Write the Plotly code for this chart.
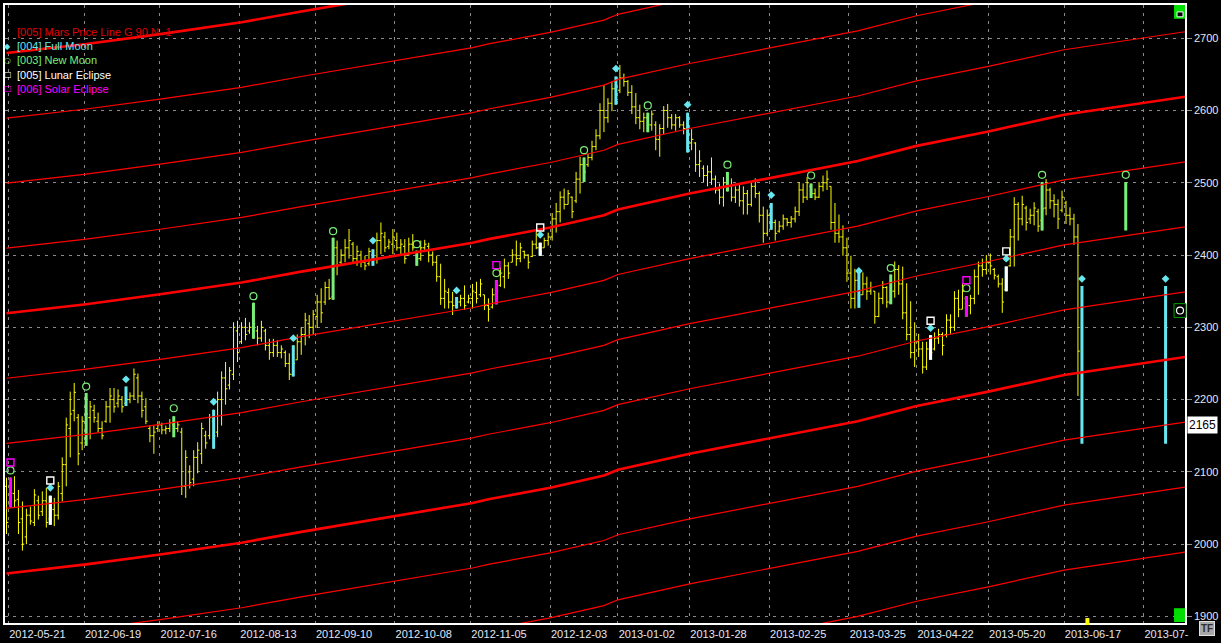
import plotly.graph_objects as go

# ── Data ──────────────────────────────────────────────────────────────────────
tick_idx = [0.5, 19.5, 38.5, 58.5, 77.5, 97.5, 116.5, 136.5, 153.5, 171.5,
            191.5, 211.5, 228.5, 246.5, 265.5, 285.5]
tick_labels = ["2012-05-21", "2012-06-19", "2012-07-16", "2012-08-13", "2012-09-10",
               "2012-10-08", "2012-11-05", "2012-12-03", "2013-01-02", "2013-01-28",
               "2013-02-25", "2013-03-25", "2013-04-22", "2013-05-20", "2013-06-17",
               "2013-07-"]

opens = [
    2080, 2055, 2070, 2062, 2035, 2010, 2040, 2030, 2060, 2045,
    2060, 2035, 2048, 2040, 2070, 2110, 2160, 2185, 2175, 2140,
    2140, 2175, 2185, 2170, 2160, 2170, 2190, 2200, 2195, 2200,
    2195, 2200, 2205, 2230, 2205, 2190, 2160, 2150, 2160, 2165,
    2158, 2160, 2165, 2160, 2155, 2080, 2100, 2090, 2120, 2125,
    2150, 2150, 2170, 2155, 2200, 2230, 2220, 2235, 2295, 2280,
    2300, 2295, 2300, 2295, 2285, 2295, 2275, 2265, 2275, 2265,
    2265, 2250, 2235, 2255, 2280, 2290, 2305, 2300, 2315, 2335,
    2335, 2355, 2342, 2410, 2390, 2400, 2410, 2415, 2395, 2400,
    2390, 2388, 2400, 2395, 2420, 2425, 2412, 2415, 2420, 2410,
    2412, 2400, 2415, 2405, 2395, 2410, 2412, 2400, 2390, 2370,
    2340, 2348, 2335, 2330, 2335, 2340, 2335, 2340, 2348, 2345,
    2345, 2330, 2328, 2345, 2358, 2370, 2385, 2390, 2400, 2395,
    2405, 2400, 2398, 2415, 2410, 2410, 2420, 2425, 2450, 2460,
    2480, 2470, 2480, 2475, 2505, 2525, 2525, 2535, 2550, 2565,
    2600, 2590, 2610, 2630, 2628, 2645, 2640, 2625, 2605, 2590,
    2585, 2590, 2580, 2580, 2560, 2575, 2600, 2590, 2580, 2590,
    2580, 2575, 2555, 2555, 2525, 2520, 2510, 2515, 2505, 2490,
    2480, 2500, 2495, 2480, 2490, 2475, 2485, 2470, 2495, 2485,
    2455, 2430, 2455, 2445, 2433, 2440, 2450, 2445, 2450, 2460,
    2490, 2480, 2495, 2485, 2480, 2495, 2500, 2495, 2445, 2430,
    2425, 2410, 2375, 2340, 2365, 2345, 2360, 2350, 2350, 2315,
    2340, 2355, 2335, 2350, 2380, 2360, 2320, 2290, 2265, 2280,
    2270, 2245, 2270, 2270, 2285, 2290, 2290, 2310, 2300, 2340,
    2325, 2340, 2330, 2340, 2370, 2385, 2380, 2390, 2380, 2370,
    2360, 2352, 2385, 2425, 2470, 2450, 2465, 2450, 2455, 2460,
    2448, 2465, 2490, 2475, 2470, 2462, 2472, 2455, 2450, 2425,
]
highs = [
    2092, 2092, 2094, 2075, 2059, 2049, 2052, 2076, 2067, 2073,
    2078, 2067, 2064, 2086, 2120, 2175, 2211, 2223, 2180, 2177,
    2209, 2198, 2193, 2182, 2170, 2198, 2216, 2216, 2214, 2205,
    2218, 2210, 2243, 2236, 2211, 2202, 2164, 2164, 2170, 2168,
    2164, 2173, 2177, 2170, 2161, 2130, 2109, 2130, 2141, 2168,
    2157, 2180, 2186, 2211, 2239, 2252, 2245, 2307, 2309, 2307,
    2313, 2307, 2334, 2302, 2309, 2298, 2284, 2284, 2282, 2275,
    2268, 2264, 2275, 2290, 2300, 2320, 2317, 2324, 2345, 2354,
    2363, 2367, 2424, 2420, 2408, 2422, 2436, 2418, 2413, 2406,
    2399, 2410, 2408, 2431, 2445, 2432, 2422, 2436, 2431, 2422,
    2422, 2424, 2429, 2406, 2420, 2421, 2417, 2405, 2399, 2388,
    2367, 2354, 2349, 2342, 2345, 2358, 2345, 2360, 2363, 2367,
    2345, 2340, 2354, 2365, 2383, 2395, 2390, 2408, 2420, 2417,
    2406, 2401, 2420, 2433, 2417, 2424, 2431, 2458, 2472, 2488,
    2492, 2490, 2481, 2515, 2536, 2535, 2540, 2558, 2574, 2610,
    2635, 2617, 2640, 2647, 2663, 2651, 2642, 2635, 2624, 2608,
    2597, 2597, 2600, 2585, 2581, 2606, 2609, 2595, 2595, 2592,
    2585, 2597, 2574, 2556, 2545, 2524, 2524, 2535, 2510, 2499,
    2508, 2515, 2506, 2495, 2499, 2495, 2490, 2501, 2506, 2488,
    2467, 2463, 2472, 2449, 2447, 2456, 2451, 2454, 2467, 2501,
    2499, 2508, 2499, 2492, 2501, 2510, 2517, 2495, 2472, 2456,
    2441, 2424, 2399, 2381, 2377, 2376, 2370, 2363, 2350, 2348,
    2364, 2357, 2373, 2391, 2386, 2384, 2361, 2336, 2307, 2291,
    2280, 2280, 2289, 2293, 2298, 2293, 2318, 2318, 2350, 2352,
    2361, 2343, 2345, 2380, 2391, 2395, 2400, 2402, 2382, 2373,
    2368, 2384, 2436, 2480, 2473, 2482, 2468, 2464, 2473, 2464,
    2501, 2505, 2493, 2484, 2477, 2489, 2475, 2466, 2457, 2443,
]
lows = [
    2014, 2051, 2050, 2014, 1991, 2000, 2027, 2025, 2034, 2039,
    2023, 2027, 2025, 2034, 2059, 2080, 2120, 2170, 2109, 2130,
    2136, 2145, 2168, 2155, 2145, 2168, 2168, 2182, 2189, 2182,
    2191, 2195, 2200, 2195, 2175, 2166, 2141, 2125, 2155, 2152,
    2152, 2155, 2148, 2155, 2068, 2064, 2077, 2080, 2098, 2111,
    2132, 2145, 2132, 2148, 2164, 2193, 2214, 2227, 2252, 2277,
    2282, 2291, 2284, 2275, 2280, 2268, 2255, 2259, 2259, 2257,
    2245, 2227, 2232, 2255, 2262, 2275, 2285, 2290, 2299, 2306,
    2331, 2338, 2338, 2372, 2385, 2390, 2395, 2390, 2385, 2383,
    2379, 2385, 2385, 2388, 2401, 2404, 2408, 2401, 2406, 2401,
    2388, 2399, 2406, 2385, 2392, 2404, 2390, 2385, 2363, 2331,
    2326, 2326, 2317, 2326, 2329, 2324, 2333, 2326, 2333, 2342,
    2324, 2308, 2326, 2332, 2356, 2354, 2367, 2390, 2385, 2390,
    2395, 2381, 2397, 2408, 2399, 2410, 2413, 2420, 2431, 2445,
    2463, 2470, 2451, 2472, 2485, 2501, 2522, 2531, 2545, 2560,
    2570, 2583, 2599, 2608, 2624, 2633, 2620, 2595, 2581, 2574,
    2570, 2570, 2572, 2545, 2536, 2567, 2576, 2574, 2572, 2576,
    2567, 2542, 2545, 2515, 2508, 2501, 2495, 2497, 2485, 2470,
    2467, 2488, 2474, 2472, 2467, 2456, 2456, 2467, 2479, 2445,
    2417, 2426, 2435, 2420, 2431, 2435, 2440, 2438, 2445, 2454,
    2472, 2476, 2479, 2476, 2479, 2488, 2490, 2435, 2417, 2417,
    2399, 2363, 2326, 2326, 2327, 2345, 2338, 2345, 2305, 2314,
    2332, 2327, 2332, 2341, 2345, 2311, 2282, 2257, 2245, 2259,
    2236, 2241, 2255, 2268, 2277, 2261, 2286, 2291, 2295, 2314,
    2325, 2315, 2318, 2332, 2345, 2370, 2373, 2373, 2366, 2355,
    2320, 2350, 2384, 2384, 2420, 2441, 2434, 2443, 2441, 2432,
    2434, 2455, 2464, 2452, 2436, 2459, 2443, 2441, 2414, 2205,
]
closes = [
    2030, 2071, 2060, 2030, 2000, 2040, 2032, 2068, 2040, 2060,
    2030, 2050, 2040, 2080, 2110, 2165, 2180, 2210, 2125, 2170,
    2180, 2190, 2175, 2160, 2150, 2190, 2205, 2190, 2205, 2190,
    2200, 2205, 2235, 2205, 2185, 2170, 2150, 2155, 2165, 2158,
    2160, 2168, 2160, 2165, 2080, 2120, 2085, 2120, 2130, 2160,
    2140, 2175, 2150, 2200, 2230, 2215, 2240, 2300, 2265, 2300,
    2290, 2300, 2305, 2285, 2300, 2275, 2265, 2275, 2265, 2270,
    2250, 2235, 2250, 2280, 2290, 2310, 2300, 2318, 2335, 2320,
    2355, 2340, 2410, 2385, 2400, 2410, 2420, 2395, 2405, 2390,
    2385, 2405, 2395, 2420, 2430, 2410, 2418, 2425, 2410, 2415,
    2395, 2415, 2410, 2395, 2410, 2415, 2400, 2390, 2370, 2340,
    2350, 2335, 2330, 2335, 2340, 2330, 2340, 2350, 2340, 2360,
    2330, 2325, 2345, 2350, 2375, 2385, 2375, 2400, 2395, 2410,
    2400, 2390, 2415, 2410, 2405, 2420, 2425, 2450, 2460, 2480,
    2470, 2485, 2460, 2505, 2525, 2515, 2535, 2550, 2565, 2600,
    2590, 2610, 2630, 2615, 2645, 2640, 2625, 2605, 2590, 2585,
    2590, 2580, 2595, 2560, 2575, 2600, 2590, 2580, 2590, 2580,
    2575, 2550, 2560, 2525, 2530, 2510, 2515, 2505, 2490, 2480,
    2500, 2495, 2480, 2490, 2475, 2485, 2470, 2495, 2485, 2455,
    2430, 2455, 2445, 2430, 2440, 2450, 2445, 2450, 2460, 2490,
    2480, 2500, 2485, 2480, 2495, 2500, 2505, 2445, 2430, 2425,
    2410, 2375, 2340, 2365, 2345, 2360, 2350, 2355, 2315, 2340,
    2355, 2335, 2350, 2380, 2360, 2320, 2290, 2265, 2280, 2270,
    2245, 2270, 2265, 2285, 2290, 2275, 2310, 2300, 2340, 2325,
    2350, 2330, 2340, 2370, 2385, 2380, 2390, 2385, 2372, 2360,
    2335, 2365, 2425, 2470, 2450, 2470, 2445, 2455, 2465, 2440,
    2464, 2490, 2475, 2470, 2450, 2480, 2455, 2450, 2425, 2267,
]

# projected moon bars drawn past the last session
proj_idx = [270, 281, 291]
proj_open = [2355, 2448, 2355]
proj_high = [2357, 2501, 2357]
proj_low = [2139, 2434, 2139]
proj_close = [2188, 2464, 2188]

full_moon_idx = [11, 30, 52, 72, 92, 113, 134, 153, 171, 192, 214, 232, 251, 270, 291]
full_moon_mark = [2078, 2228, 2197, 2285, 2420, 2351, 2428, 2658, 2608, 2483, 2378,
                  2299, 2395, 2367, 2367]
new_moon_idx = [1, 20, 42, 62, 82, 103, 123, 145, 161, 181, 202, 222, 241, 260, 281]
new_moon_mark = [2102, 2218, 2188, 2343, 2433, 2415, 2375, 2545, 2607, 2525, 2510,
                 2382, 2354, 2511, 2511]
lunar_idx = [11, 134, 232, 251]
lunar_mark = [2088, 2438, 2309, 2405]
solar_idx = [1, 123, 241]
solar_mark = [2113, 2386, 2365]

# Mars price line (base harmonic), read at a few bars
mars_idx = [0, 20, 39, 59, 74, 97.5, 117, 121, 136.5, 150, 153.5, 171.5, 191.5,
            213.7, 228.5, 246.5, 265.5, 296]
mars_base = [2319.5, 2332, 2346, 2362, 2377, 2399, 2417, 2422, 2438, 2455, 2463,
             2485, 2506, 2530, 2551, 2571, 2594, 2619]
mars_step = 90
mars_levels = list(range(-7, 5))

last_price = 2165

# ── Style ─────────────────────────────────────────────────────────────────────
BG = "#000000"
YELLOW = "#ffff00"
CYAN = "#66e6ee"
GREEN = "#78ee78"
MAGENTA = "#ff00ff"
WHITE = "#ffffff"
RED = "#ff0000"
GRID = "#8a8a8a"
LABEL = "#e4e6f4"
FONT = "Liberation Sans, Arial, sans-serif"

W, H = 1221, 643
L, R, T, B = 3, 1188, 3, 630


def px(x):
    return (x - L) / (R - L)


def py(y):
    return (B - y) / (B - T)


def bar_value(i, arr, parr):
    if i < len(arr):
        return arr[i]
    return parr[proj_idx.index(i)]


def highlight(idx, color, width=3):
    o = [bar_value(i, opens, proj_open) for i in idx]
    h = [bar_value(i, highs, proj_high) for i in idx]
    lo = [bar_value(i, lows, proj_low) for i in idx]
    c = [bar_value(i, closes, proj_close) for i in idx]
    gap = min(b - a for a, b in zip(idx, idx[1:])) if len(idx) > 1 else 1
    return go.Ohlc(
        x=idx, open=o, high=h, low=lo, close=c,
        increasing=dict(line=dict(color=color, width=width)),
        decreasing=dict(line=dict(color=color, width=width)),
        tickwidth=min(0.5, 0.8 / gap), hoverinfo="skip",
    )


fig = go.Figure()

# Mars price lines
for k in mars_levels:
    thick = k % 4 == 0
    fig.add_trace(go.Scatter(
        x=mars_idx, y=[b + k * mars_step for b in mars_base], mode="lines",
        line=dict(color=RED, width=2.6 if thick else 1.2), hoverinfo="skip",
    ))

# price bars
fig.add_trace(go.Ohlc(
    x=list(range(len(opens))), open=opens, high=highs, low=lows, close=closes,
    increasing=dict(line=dict(color=YELLOW, width=1)),
    decreasing=dict(line=dict(color=YELLOW, width=1)),
    tickwidth=0.45, hoverinfo="skip",
))

# moon / eclipse bars
fig.add_trace(highlight(new_moon_idx, GREEN))
fig.add_trace(highlight(full_moon_idx, CYAN))
fig.add_trace(highlight(lunar_idx, WHITE))
fig.add_trace(highlight(solar_idx, MAGENTA))

# markers
fig.add_trace(go.Scatter(x=full_moon_idx, y=full_moon_mark, mode="markers",
                         marker=dict(symbol="diamond", size=6, color=CYAN), hoverinfo="skip"))
fig.add_trace(go.Scatter(x=new_moon_idx, y=new_moon_mark, mode="markers",
                         marker=dict(symbol="circle-open", size=7, color=GREEN,
                                     line=dict(width=1.2)), hoverinfo="skip"))
fig.add_trace(go.Scatter(x=lunar_idx, y=lunar_mark, mode="markers",
                         marker=dict(symbol="square-open", size=7, color=WHITE,
                                     line=dict(width=1.4)), hoverinfo="skip"))
fig.add_trace(go.Scatter(x=solar_idx, y=solar_mark, mode="markers",
                         marker=dict(symbol="square-open", size=7, color=MAGENTA,
                                     line=dict(width=1.4)), hoverinfo="skip"))

# ── Legend text (top-left) ────────────────────────────────────────────────────
legend = [
    (None, "[005] Mars Price Line G 90 N -1", "#e00000", 30),
    ("◆", "[004] Full Moon", CYAN, 45),
    ("○", "[003] New Moon", GREEN, 59),
    ("□", "[005] Lunar Eclipse", WHITE, 74),
    ("□", "[006] Solar Eclipse", MAGENTA, 88),
]
ann = []
for sym, txt, col, yy in legend:
    ann.append(dict(x=px(13), y=py(yy), xref="paper", yref="paper", text=txt,
                    showarrow=False, xanchor="left", yanchor="middle",
                    font=dict(family=FONT, size=11, color=col)))
    if sym:
        ann.append(dict(x=px(6), y=py(yy), xref="paper", yref="paper", text=sym,
                        showarrow=False, xanchor="center", yanchor="middle",
                        font=dict(family="DejaVu Sans", size=8, color=col)))

# last price box
ann.append(dict(x=1, xref="paper", y=last_price, yref="y", text=str(last_price),
                showarrow=False, xanchor="left", yanchor="middle", xshift=2,
                bgcolor=WHITE, borderpad=1,
                font=dict(family=FONT, size=12, color="#000000")))
# TF button
ann.append(dict(x=px(1210), y=py(636), xref="paper", yref="paper", text="<b>TF</b>",
                showarrow=False, xanchor="center", yanchor="middle",
                bgcolor="#a8a8a8", bordercolor="#e0e0e0", borderwidth=1, borderpad=1,
                font=dict(family=FONT, size=10, color="#303030")))

shapes = [
    # green corner boxes
    dict(type="rect", xref="paper", yref="paper", x0=px(1177), x1=px(1188),
         y0=py(17), y1=py(3), fillcolor="#00e000", line=dict(width=0), layer="above"),
    dict(type="rect", xref="paper", yref="paper", x0=px(1180), x1=px(1186),
         y0=py(15), y1=py(10), fillcolor="#000000", line=dict(color=WHITE, width=1),
         layer="above"),
    dict(type="rect", xref="paper", yref="paper", x0=px(1177), x1=px(1188),
         y0=py(629), y1=py(615), fillcolor="#00e000", line=dict(width=0), layer="above"),
    # circle icon
    dict(type="rect", xref="paper", yref="paper", x0=px(1177), x1=px(1189),
         y0=py(320), y1=py(306), fillcolor="#000000", line=dict(color="#00a000", width=1),
         layer="above"),
    dict(type="circle", xref="paper", yref="paper", x0=px(1179.5), x1=px(1186.5),
         y0=py(316.5), y1=py(309.5), fillcolor="#000000", line=dict(color=WHITE, width=1.2),
         layer="above"),
    # yellow time marker on the axis
    dict(type="rect", xref="paper", yref="paper", x0=px(1088), x1=px(1092),
         y0=py(632), y1=py(625), fillcolor="#ffff00", line=dict(width=0), layer="above"),
]

fig.update_layout(
    width=W, height=H,
    margin=dict(l=L, r=W - R, t=T, b=H - B),
    paper_bgcolor=BG, plot_bgcolor=BG,
    showlegend=False, hovermode=False,
    annotations=ann, shapes=shapes,
    font=dict(family=FONT, size=11, color=LABEL),
)
fig.update_xaxes(
    range=[-0.375, 295.875], rangeslider=dict(visible=False),
    tickmode="array", tickvals=tick_idx, ticktext=tick_labels,
    ticklabelposition="outside right", ticks="", tickfont=dict(size=11, color=LABEL),
    showgrid=True, gridcolor=GRID, griddash="3px,5px", gridwidth=1,
    showline=True, linecolor=WHITE, linewidth=1.5, mirror=True, zeroline=False,
)
fig.update_yaxes(
    range=[1890.9, 2745.9], side="right",
    tickmode="array", tickvals=list(range(1900, 2701, 100)),
    ticks="outside", ticklen=5, tickcolor="#909090",
    tickfont=dict(size=11, color=LABEL),
    showgrid=True, gridcolor=GRID, griddash="3px,5px", gridwidth=1,
    showline=True, linecolor=WHITE, linewidth=1.5, mirror=True, zeroline=False,
)

fig.write_html("out.html", config={"displayModeBar": False},
               post_script="document.body.style.margin='0px';")
